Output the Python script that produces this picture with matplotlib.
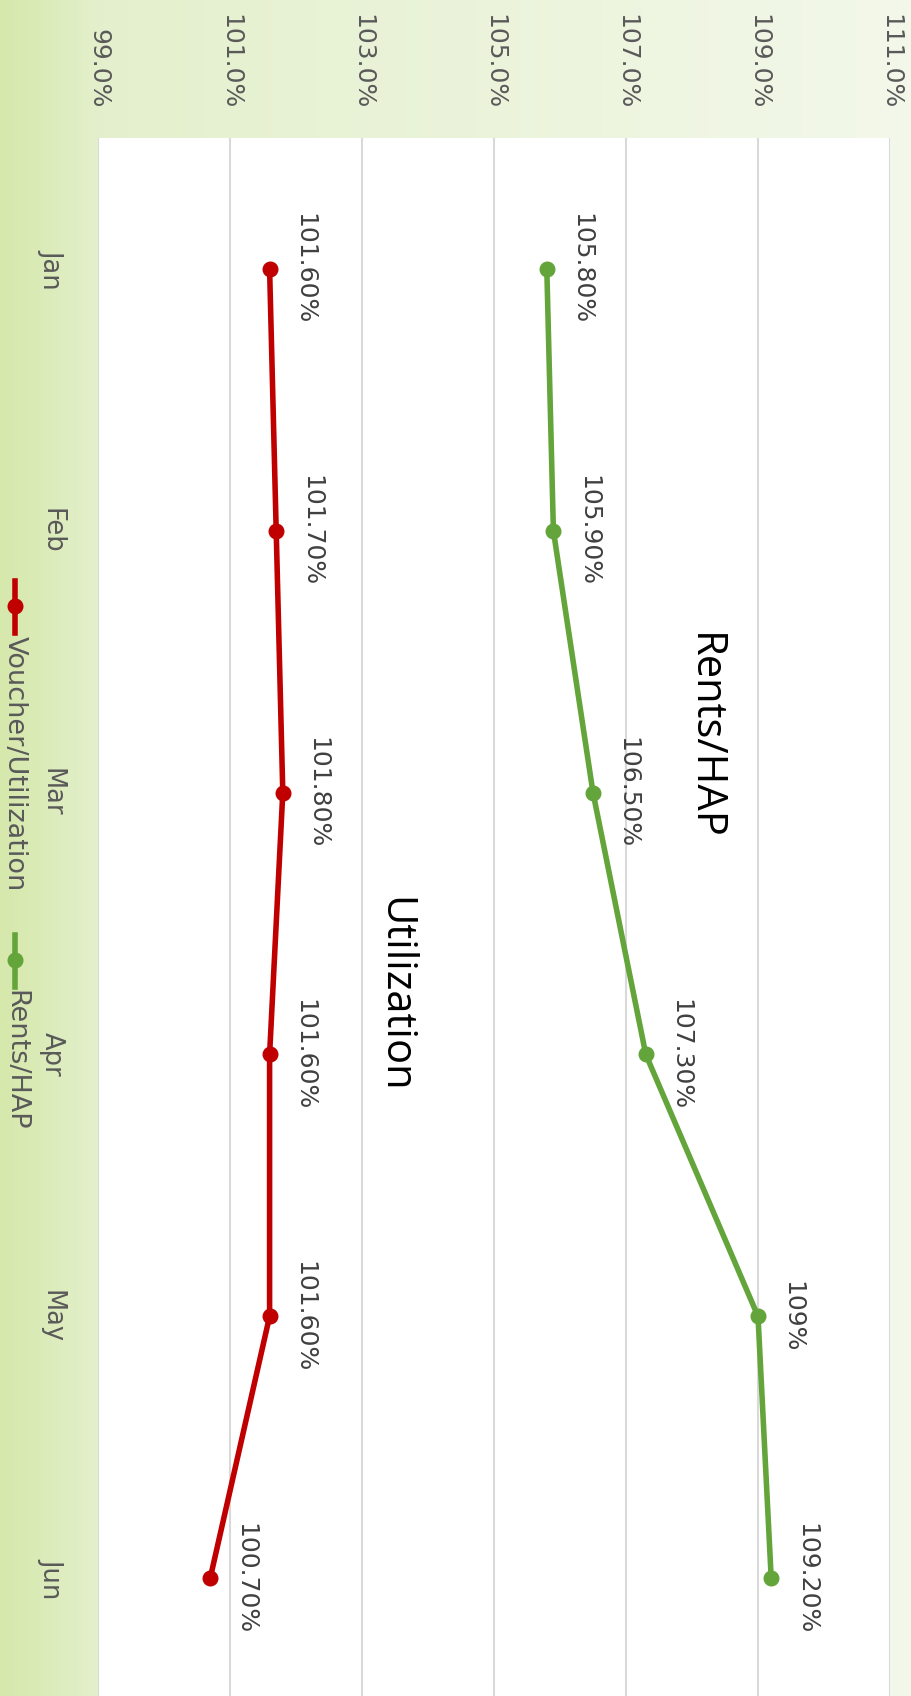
import numpy as np
import matplotlib
matplotlib.use("Agg")
import matplotlib.pyplot as plt
from matplotlib.colors import LinearSegmentedColormap
from matplotlib.lines import Line2D

# chart data
months = ["Jan", "Feb", "Mar", "Apr", "May", "Jun"]
voucher_util = [101.6, 101.7, 101.8, 101.6, 101.6, 100.7]
rents_hap = [105.8, 105.9, 106.5, 107.3, 109.0, 109.2]
voucher_labels = ["101.60%", "101.70%", "101.80%", "101.60%", "101.60%", "100.70%"]
rents_labels = ["105.80%", "105.90%", "106.50%", "107.30%", "109%", "109.20%"]
pct_ticks = [99, 101, 103, 105, 107, 109, 111]

RED = "#C00000"
GREEN = "#63A53A"
GRAY = "#595959"
DARK = "#404040"

W, H = 912, 1696
fig = plt.figure(figsize=(W / 100, H / 100), dpi=100)

# gradient background over the whole figure
bg = fig.add_axes([0, 0, 1, 1], zorder=0)
cmap = LinearSegmentedColormap.from_list(
    "bg", [(0, "#d6e8ab"), (0.11, "#e4f0cd"), (1, "#f3f8ea")])
bg.imshow(np.linspace(0, 1, 256)[None, :], aspect="auto", cmap=cmap,
          extent=[0, 1, 0, 1])
bg.axis("off")

# rotated chart: percent across, months downwards
left, right, top = 98 / W, 890 / W, 138 / H
ax = fig.add_axes([left, 0, right - left, 1 - top], zorder=1)
ax.set_facecolor("white")
y = np.arange(len(months))

ax.plot(voucher_util, y, color=RED, lw=4, marker="o", ms=10.5,
        solid_capstyle="round", zorder=3)
ax.plot(rents_hap, y, color=GREEN, lw=4, marker="o", ms=10.5,
        solid_capstyle="round", zorder=3)

for xs, labs in [(voucher_util, voucher_labels), (rents_hap, rents_labels)]:
    for xv, yv, lab in zip(xs, y, labs):
        ax.annotate(lab, (xv, yv), xytext=(25, 0), textcoords="offset points",
                    rotation=-90, ha="center", va="center", fontsize=18,
                    color=DARK, family="DejaVu Sans")

ax.set_xlim(99, 111)
ax.set_ylim(5.45, -0.5)
ax.set_xticks(pct_ticks)
ax.set_xticklabels([f"{t:.1f}%" for t in pct_ticks])
ax.xaxis.tick_top()
ax.set_yticks(y)
ax.set_yticklabels(months)
ax.tick_params(axis="x", length=0, pad=21, labelsize=18, labelcolor=GRAY,
               labelrotation=-90)
ax.tick_params(axis="y", length=0, pad=24, labelsize=18.5, labelcolor=GRAY,
               labelrotation=-90)
for t in ax.get_xticklabels():
    t.set_va("bottom")
    t.set_ha("center")
for t in ax.get_yticklabels():
    t.set_va("center")
    t.set_ha("right")
ax.grid(axis="x", color="#d9d9d9", lw=1.5)
ax.set_axisbelow(True)
for s in ax.spines.values():
    s.set_visible(False)

# series text boxes
fig.text(704 / W, 1 - 736 / H, "Rents/HAP", rotation=-90, ha="center",
         va="center", fontsize=30, family="Open Sans", color="black", zorder=4)
fig.text(394 / W, 1 - 995 / H, "Utilization", rotation=-90, ha="center",
         va="center", fontsize=30, family="Open Sans", color="black", zorder=4)

# legend along the left edge
for color, y0, name in [(RED, 581, "Voucher/Utilization"), (GREEN, 935, "Rents/HAP")]:
    fig.add_artist(Line2D([15 / W, 15 / W], [1 - y0 / H, 1 - (y0 + 52) / H],
                          color=color, lw=4, zorder=5))
    fig.add_artist(Line2D([15 / W], [1 - (y0 + 25) / H], color=color,
                          marker="o", ms=10.5, zorder=5))
    fig.text(15 / W, 1 - (y0 + 55) / H, name, rotation=-90, ha="center",
             va="top", fontsize=19.5, color=GRAY, family="DejaVu Sans", zorder=5)

fig.savefig("out.png", dpi=100)
